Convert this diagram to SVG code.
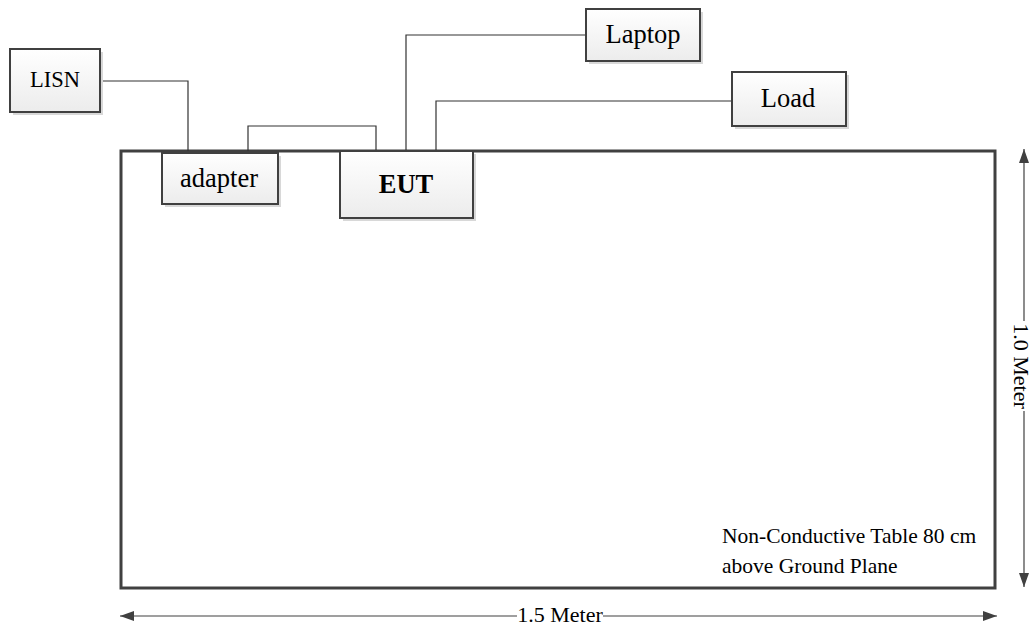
<svg xmlns="http://www.w3.org/2000/svg" width="1036" height="631" viewBox="0 0 1036 631">
<defs>
<linearGradient id="g" x1="0" y1="0" x2="0" y2="1">
<stop offset="0" stop-color="#ffffff"/>
<stop offset="1" stop-color="#ececec"/>
</linearGradient>
<marker id="ah" viewBox="0 0 14 10" refX="14" refY="5" markerWidth="14" markerHeight="10" markerUnits="userSpaceOnUse" orient="auto">
<path d="M0,0 L14,5 L0,10 Z" fill="#404040"/>
</marker>
</defs>
<style>
.box{fill:url(#g);stroke:#404040;stroke-width:2}
.sh{fill:#d8d8d8}
.t{font-family:"Liberation Serif","Times New Roman",serif;fill:#000;text-anchor:middle}
.w{fill:none;stroke:#333;stroke-width:1.2}
.dim{fill:none;stroke:#404040;stroke-width:1.2}
</style>
<rect width="1036" height="631" fill="#fff"/>
<g id="table">
<rect x="121" y="151" width="874" height="437" fill="none" stroke="#404040" stroke-width="3"/>
<text class="t" x="722" y="543" font-size="21.5" style="text-anchor:start">Non-Conductive Table 80 cm</text>
<text class="t" x="722" y="573" font-size="21.5" style="text-anchor:start">above Ground Plane</text>
</g>
<g id="connectors">
<path class="w" d="M100,81 H188 V151"/>
<path class="w" d="M248,151 V126 H376 V151"/>
<path class="w" d="M406,151 V35 H586"/>
<path class="w" d="M436,151 V101 H732"/>
</g>
<g id="LISN">
<rect class="sh" x="13" y="52" width="90" height="63"/>
<rect class="box" x="10" y="49" width="90" height="63"/>
<text class="t" x="55" y="87" font-size="22.5">LISN</text>
</g>
<g id="adapter">
<rect class="sh" x="165" y="156" width="116" height="51"/>
<rect class="box" x="162" y="153" width="116" height="51"/>
<text class="t" x="219" y="187" font-size="26.5">adapter</text>
</g>
<g id="EUT">
<rect class="sh" x="343" y="154" width="133" height="67"/>
<rect class="box" x="340" y="151" width="133" height="67"/>
<text class="t" x="406" y="193" font-size="26.5" font-weight="bold">EUT</text>
</g>
<g id="Laptop">
<rect class="sh" x="589" y="12" width="114" height="52"/>
<rect class="box" x="586" y="9" width="114" height="52"/>
<text class="t" x="643" y="43" font-size="26.5">Laptop</text>
</g>
<g id="Load">
<rect class="sh" x="735" y="75" width="114" height="54"/>
<rect class="box" x="732" y="72" width="114" height="54"/>
<text class="t" x="788" y="107" font-size="26.5">Load</text>
</g>
<g id="dim-width">
<line class="dim" x1="517" y1="616" x2="120" y2="616" marker-end="url(#ah)"/>
<line class="dim" x1="603" y1="616" x2="997" y2="616" marker-end="url(#ah)"/>
<text class="t" x="560" y="622" font-size="22">1.5 Meter</text>
</g>
<g id="dim-height">
<line class="dim" x1="1024" y1="321" x2="1024" y2="149" marker-end="url(#ah)"/>
<line class="dim" x1="1024" y1="411" x2="1024" y2="587" marker-end="url(#ah)"/>
<text class="t" x="0" y="0" font-size="22" transform="translate(1014,366) rotate(90)">1.0 Meter</text>
</g>
</svg>
